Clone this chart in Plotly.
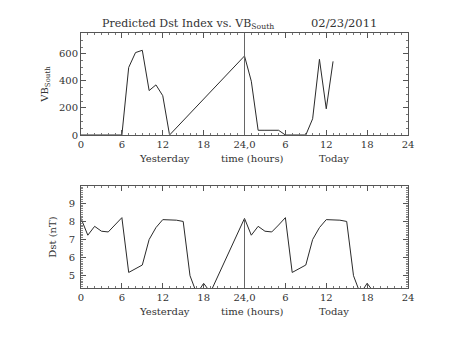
import plotly.graph_objects as go
from plotly.subplots import make_subplots

# VB_South (top panel); hours 0-48 (0-24 yesterday, 24-48 today)
vb_hours = [0, 1, 2, 3, 4, 5, 6, 7, 8, 9, 10, 11, 12, 13,
            24, 25, 26, 27, 28, 29, 30, 31, 32, 33, 34, 35, 36, 37]
vb_values = [0, 0, 0, 0, 0, 0, 0, 500, 610, 627, 329, 371, 291, 0,
             585, 398, 35, 35, 35, 35, 0, 0, 0, 0, 120, 560, 194, 545]

# Dst (bottom panel)
dst_hours = [0, 1, 2, 3, 4, 5, 6, 7, 8, 9, 10, 11, 12, 13, 14, 15, 16, 17, 18, 19,
             24, 25, 26, 27, 28, 29, 30, 31, 32, 33, 34, 35, 36, 37, 38, 39, 40, 41, 42, 43]
dst_values = [8.17, 7.24, 7.73, 7.46, 7.42, 7.8, 8.21, 5.18, 5.4, 5.59, 7.0, 7.66, 8.1, 8.1, 8.07, 8.0, 5.0, 4.0, 4.58, 4.08,
              8.17, 7.24, 7.73, 7.46, 7.42, 7.8, 8.21, 5.18, 5.4, 5.59, 7.0, 7.66, 8.1, 8.1, 8.07, 8.0, 5.0, 4.0, 4.58, 4.08]

x_tickvals = [0, 6, 12, 18, 24, 30, 36, 42, 48]
x_ticktext = ["0", "6", "12", "18", "24,0", "6", "12", "18", "24"]
vb_tickvals = [0, 200, 400, 600]
dst_tickvals = [5, 6, 7, 8, 9]
now_hour = 24

FONT = "DejaVu Serif"
TXT = "#333333"
LINE = "#2a2a2a"

fig = make_subplots(rows=2, cols=1, vertical_spacing=0.2)
fig.add_trace(go.Scatter(x=vb_hours, y=vb_values, mode="lines",
                         line=dict(color=LINE, width=1), showlegend=False), row=1, col=1)
fig.add_trace(go.Scatter(x=dst_hours, y=dst_values, mode="lines",
                         line=dict(color=LINE, width=1), showlegend=False), row=2, col=1)

xaxis_common = dict(range=[0, 48], tickvals=x_tickvals, ticktext=x_ticktext,
                    ticks="inside", ticklen=5, tickcolor="#555", mirror="allticks",
                    showline=True, linecolor="#555", linewidth=1, showgrid=False, zeroline=False,
                    minor=dict(dtick=1, tick0=0, ticks="inside", ticklen=2, tickcolor="#777"),
                    tickfont=dict(family=FONT, size=10, color=TXT))
fig.update_xaxes(**xaxis_common)
fig.update_layout(
    yaxis=dict(domain=[0.6, 1.0], range=[0, 755], tickvals=vb_tickvals,
               ticks="inside", ticklen=5, tickcolor="#555", mirror="allticks",
               showline=True, linecolor="#555", linewidth=1, showgrid=False, zeroline=False,
               minor=dict(dtick=50, tick0=0, ticks="inside", ticklen=2, tickcolor="#777"),
               tickfont=dict(family=FONT, size=10, color=TXT), ticklabelstandoff=0,
               title=dict(text="VB<sub>South</sub>", font=dict(family=FONT, size=10, color=TXT), standoff=8)),
    yaxis2=dict(domain=[0.0, 0.4], range=[4.32, 9.96], tickvals=dst_tickvals,
                ticks="inside", ticklen=5, tickcolor="#555", mirror="allticks",
                showline=True, linecolor="#555", linewidth=1, showgrid=False, zeroline=False,
                minor=dict(dtick=0.1, tick0=0, ticks="inside", ticklen=2, tickcolor="#888"),
                tickfont=dict(family=FONT, size=10, color=TXT), ticklabelstandoff=3,
                title=dict(text="Dst (nT)", font=dict(family=FONT, size=10, color=TXT), standoff=10)),
)

# vertical "now" markers
fig.add_shape(type="line", xref="x", yref="y domain", x0=now_hour, x1=now_hour, y0=0, y1=1,
              line=dict(color="#666", width=1))
dst_now = dst_values[dst_hours.index(now_hour)]
fig.add_shape(type="line", xref="x2", yref="y2", x0=now_hour, x1=now_hour, y0=4.32, y1=dst_now,
              line=dict(color="#666", width=1))

# x axis labels
for xr, yoff in (("x", "y domain"), ("x2", "y2 domain")):
    for xpos, txt in ((12.3, "Yesterday"), (25.2, "time (hours)"), (37.2, "Today")):
        fig.add_annotation(x=xpos, xref=xr, y=0, yref=yoff, yshift=-23, text=txt,
                           showarrow=False, xanchor="center", yanchor="middle",
                           font=dict(family=FONT, size=10, color=TXT))

pw = 453 - 81 - 45
ph = 340 - 33 - 52
# title (positions given in pixels, converted to paper coordinates)
fig.add_annotation(x=(100 - 81) / pw, xref="paper", y=(340 - 24 - 52) / ph, yref="paper",
                   text="Predicted Dst Index vs. VB<sub>South</sub>", showarrow=False,
                   xanchor="left", yanchor="middle", font=dict(family=FONT, size=11, color=TXT))
fig.add_annotation(x=(309 - 81) / pw, xref="paper", y=(340 - 23 - 52) / ph, yref="paper",
                   text="02/23/2011", showarrow=False,
                   xanchor="left", yanchor="middle", font=dict(family=FONT, size=11.5, color=TXT))

fig.update_layout(width=453, height=340, margin=dict(l=81, r=45, t=33, b=52),
                  paper_bgcolor="white", plot_bgcolor="white")

fig.write_html("out.html")
